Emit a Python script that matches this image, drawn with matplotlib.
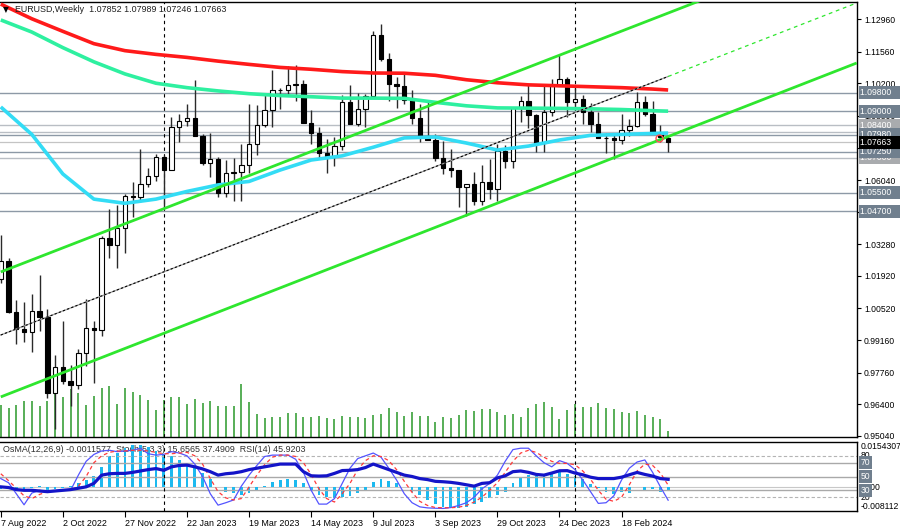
import matplotlib
matplotlib.use("Agg")
import matplotlib.pyplot as plt
import numpy as np

plt.rcParams['font.family'] = ['Liberation Sans', 'DejaVu Sans']

# ---------------- data ----------------
date_labels = ["7 Aug 2022", "2 Oct 2022", "27 Nov 2022", "22 Jan 2023", "19 Mar 2023",
               "14 May 2023", "9 Jul 2023", "3 Sep 2023", "29 Oct 2023", "24 Dec 2023",
               "18 Feb 2024"]
date_label_weeks = [0, 8, 16, 24, 32, 40, 48, 56, 64, 72, 80]
year_sep_weeks = [21, 74]

opens = [1.0180, 1.0258, 1.0038, 0.9964, 0.9953, 1.0042, 1.0015, 0.9690, 0.9801, 0.9740,
         0.9722, 0.9860, 0.9966, 0.9960, 1.0354, 1.0325, 1.0396, 1.0535, 1.0532, 1.0585,
         1.0620, 1.0705, 1.0645, 1.0832, 1.0856, 1.0870, 1.0795, 1.0679, 1.0694, 1.0547,
         1.0634, 1.0640, 1.0668, 1.0759, 1.0840, 1.0905, 1.0993, 1.0990, 1.1014, 1.1018,
         1.0850, 1.0805, 1.0722, 1.0708, 1.0750, 1.0940, 1.0845, 1.0910, 1.0967, 1.1228,
         1.1125, 1.1016, 1.1006, 1.0950, 1.0871, 1.0795, 1.0775, 1.0700, 1.0657, 1.0645,
         1.0573, 1.0588, 1.0512, 1.0594, 1.0565, 1.0728, 1.0684, 1.0914, 1.0942, 1.0883,
         1.0763, 1.0895, 1.1010, 1.1039, 1.0941, 1.0952, 1.0897, 1.0846, 1.0785, 1.0784,
         1.0777, 1.0820, 1.0838, 1.0939, 1.0889, 1.0808, 1.07852]
highs = [1.0368, 1.0270, 1.0090, 1.0079, 1.0113, 1.0198, 1.0051, 0.9853, 1.0000, 0.9809,
         0.9876, 1.0094, 1.0000, 1.0365, 1.0481, 1.0497, 1.0545, 1.0595, 1.0737, 1.0657,
         1.0714, 1.0713, 1.0875, 1.0887, 1.0929, 1.1033, 1.0800, 1.0805, 1.0704, 1.0692,
         1.0700, 1.0760, 1.0930, 1.0925, 1.0973, 1.1075, 1.1000, 1.1095, 1.1097, 1.1036,
         1.0905, 1.0830, 1.0780, 1.0787, 1.0971, 1.1012, 1.0976, 1.0975, 1.1245, 1.1276,
         1.1150, 1.1046, 1.1065, 1.0990, 1.0930, 1.0945, 1.0803, 1.0770, 1.0737, 1.0648,
         1.0575, 1.0640, 1.0668, 1.0695, 1.0757, 1.0756, 1.0914, 1.0965, 1.1017, 1.0887,
         1.1009, 1.1040, 1.1140, 1.1046, 1.0998, 1.0968, 1.0933, 1.0895, 1.0805, 1.0806,
         1.0888, 1.0866, 1.0981, 1.0963, 1.0942, 1.0842, 1.07989]
lows = [1.0160, 1.0033, 0.9900, 0.9910, 0.9864, 0.9956, 0.9669, 0.9536, 0.9728, 0.9632,
        0.9705, 0.9806, 0.9730, 0.9935, 1.0271, 1.0225, 1.0290, 1.0443, 1.0508, 1.0572,
        1.0600, 1.0483, 1.0645, 1.0766, 1.0836, 1.0796, 1.0669, 1.0615, 1.0533, 1.0533,
        1.0516, 1.0516, 1.0636, 1.0712, 1.0831, 1.0831, 1.0910, 1.0964, 1.0942, 1.0847,
        1.0760, 1.0700, 1.0635, 1.0665, 1.0732, 1.0844, 1.0835, 1.0833, 1.0956, 1.1115,
        1.0944, 1.0913, 1.0930, 1.0845, 1.0766, 1.0774, 1.0686, 1.0632, 1.0617, 1.0488,
        1.0448, 1.0495, 1.0495, 1.0522, 1.0516, 1.0655, 1.0657, 1.0853, 1.0828, 1.0723,
        1.0723, 1.0880, 1.1008, 1.0877, 1.0904, 1.0844, 1.0812, 1.0785, 1.0722, 1.0695,
        1.0761, 1.0795, 1.0833, 1.0880, 1.0802, 1.0768, 1.07246]
closes = [1.0258, 1.0038, 0.9964, 0.9953, 1.0042, 1.0015, 0.9690, 0.9801, 0.9740, 0.9722,
          0.9860, 0.9966, 0.9960, 1.0354, 1.0325, 1.0396, 1.0535, 1.0532, 1.0585, 1.0620,
          1.0705, 1.0645, 1.0832, 1.0856, 1.0870, 1.0795, 1.0679, 1.0694, 1.0547, 1.0634,
          1.0640, 1.0668, 1.0759, 1.0840, 1.0905, 1.0993, 1.0990, 1.1014, 1.1018, 1.0850,
          1.0805, 1.0722, 1.0708, 1.0750, 1.0940, 1.0845, 1.0910, 1.0967, 1.1228, 1.1125,
          1.1016, 1.1006, 1.0950, 1.0871, 1.0795, 1.0775, 1.0700, 1.0657, 1.0645, 1.0573,
          1.0588, 1.0512, 1.0594, 1.0565, 1.0728, 1.0684, 1.0914, 1.0942, 1.0883, 1.0763,
          1.0895, 1.1010, 1.1039, 1.0941, 1.0952, 1.0897, 1.0846, 1.0785, 1.0784, 1.0777,
          1.0820, 1.0838, 1.0939, 1.0889, 1.0808, 1.0790, 1.07663]
volumes_k = [32, 29, 32, 36, 36, 31, 36, 43, 40, 48, 44, 32, 41, 49, 51, 33, 49, 45, 42, 37,
             27, 37, 40, 40, 33, 38, 34, 36, 31, 31, 31, 53, 35, 23, 19, 20, 20, 24, 24, 20,
             20, 21, 19, 18, 21, 20, 20, 19, 22, 23, 29, 25, 21, 25, 21, 21, 15, 20, 19, 22,
             27, 26, 28, 28, 25, 22, 23, 20, 29, 33, 35, 30, 18, 27, 33, 30, 30, 34, 29, 28,
             25, 24, 26, 22, 20, 18, 6]

# moving averages (read every 4 weeks)
ma_weeks = [0, 4, 8, 12, 16, 20, 24, 28, 32, 36, 40, 44, 48, 52, 56, 60, 64, 68, 72, 76, 80, 84, 86]
ma_red = [1.1360, 1.1297, 1.1243, 1.1190, 1.1160, 1.1144, 1.1131, 1.1115, 1.1101, 1.1088, 1.1080,
          1.1070, 1.1064, 1.1063, 1.1054, 1.1035, 1.1022, 1.1013, 1.1009, 1.1005, 1.1001, 1.0995, 1.0991]
ma_spring = [1.1292, 1.1240, 1.1173, 1.1112, 1.1060, 1.1020, 1.1001, 1.0987, 1.0975, 1.0967, 1.0962,
             1.0956, 1.0956, 1.0955, 1.0938, 1.0923, 1.0914, 1.0913, 1.0912, 1.0910, 1.0907, 1.0902, 1.0900]
ma_aqua = [1.0918, 1.0800, 1.0630, 1.0522, 1.0504, 1.0522, 1.0555, 1.0583, 1.0598, 1.0647, 1.0690,
           1.0708, 1.0745, 1.0785, 1.0789, 1.0763, 1.0733, 1.0750, 1.0776, 1.0796, 1.0800, 1.0804, 1.0806]

# trend channel anchors (week, price)
upper_line = ([0, 110.3], [1.0209, 1.1636])
middle_line = ([0, 86], [0.9938, 1.1049])
middle_ext = ([86, 110.3], [1.1049, 1.1365])
lower_line = ([0, 110.3], [0.9672, 1.1107])

levels_dark = [1.0980, 1.0900, 1.0798, 1.0725, 1.0550, 1.0470]
levels_light = [1.0840, 1.0700]
level_plain = [1.0812]
bid_price = 1.07663
price_ticks = [1.12960, 1.11560, 1.10200, 1.08800, 1.07400, 1.06040, 1.04680, 1.03280,
               1.01920, 1.00520, 0.99160, 0.97760, 0.96400, 0.95040]

osma = [-0.0005, -0.0004, -0.0006, -0.0007, -0.0004, 0.0005, -0.0010, -0.0005, -0.0004, 0.0003,
        0.0015, 0.0025, 0.0038, 0.0070, 0.0105, 0.0118, 0.0133, 0.0144, 0.0144, 0.0138,
        0.0122, 0.0110, 0.0105, 0.0093, 0.0082, 0.0065, 0.0050, 0.0027, 0.0002, -0.0015,
        -0.0020, -0.0026, -0.0020, -0.0010, 0.0004, 0.0019, 0.0025, 0.0027, 0.0025, 0.0014,
        -0.0009, -0.0026, -0.0034, -0.0037, -0.0032, -0.0030, -0.0020, -0.0009, 0.0019, 0.0027,
        0.0022, 0.0014, 0.0002, -0.0015, -0.0026, -0.0043, -0.0058, -0.0066, -0.0066, -0.0072,
        -0.0066, -0.0058, -0.0049, -0.0037, -0.0026, -0.0015, 0.0014, 0.0034, 0.0042, 0.0039,
        0.0042, 0.0048, 0.0051, 0.0044, 0.0039, 0.0027, 0.0010, -0.0003, -0.0015, -0.0024,
        -0.0015, -0.0020, 0.0002, -0.0009, -0.0005, -0.0015, -0.0011577]
stoch_main = [47, 41, 25, 9, 26, 30, 28, 29, 30, 30,
              52, 72, 82, 87, 88, 86, 87, 88, 91, 83,
              81, 82, 86, 84, 80, 68, 50, 25, 8.5, 12,
              16, 36, 52, 66, 79, 81, 81, 81, 75, 56,
              30, 10, 10, 18, 40, 62, 76, 80, 84, 78,
              62, 45, 25, 12, 6, 4.5, 4, 3.7, 5, 8,
              12, 20, 32, 40, 52, 72, 89, 91, 91, 80,
              70, 64, 73, 69, 60, 45, 28, 11, 12, 22,
              45, 62, 71, 74, 56, 35, 15.6565]
stoch_signal = [54, 44, 33, 22, 18, 24, 28, 29, 30, 30,
                36, 50, 70, 80, 85, 87, 87, 88, 88, 87,
                85, 83, 83, 84, 85, 80, 68, 47, 28, 19,
                16, 18, 35, 52, 67, 78, 81, 81, 79, 70,
                53, 32, 18, 13, 25, 40, 60, 73, 80, 79,
                73, 60, 43, 27, 14, 8, 5, 4.7, 4.7, 5.5,
                8, 13, 20, 30, 41, 56, 72, 84, 88, 85,
                78, 72, 69, 69, 67, 58, 46, 30, 17, 14,
                20, 38, 58, 68, 66, 55, 37.4909]
rsi = [35, 34, 31, 30, 30, 29, 28, 29, 30, 31,
       33, 35, 40, 52, 54, 54.5, 54.5, 56, 58, 60,
       61.5, 59, 64, 66, 66.5, 64, 61, 57, 52, 54,
       55, 57, 60, 62, 64, 66, 68, 68, 68, 57,
       51, 50.6, 51, 54.5, 58.6, 59, 60, 63, 68, 64,
       60, 56, 52, 50, 47, 45.5, 43, 42.4, 41.5, 40,
       38, 36, 40, 41, 48, 51, 57, 58, 56, 53,
       52, 55, 58.3, 58.5, 55, 52.5, 49, 47, 47, 47,
       49, 52.5, 55.9, 53, 50.6, 47, 45.9203]

# ---------------- figure ----------------
W, H = 900, 530
fig = plt.figure(figsize=(W / 100, H / 100), dpi=100)
fig.patch.set_facecolor('white')


def rect(x0, y0, x1, y1):
    return [x0 / W, 1 - y1 / H, (x1 - x0) / W, (y1 - y0) / H]


ax_vol = fig.add_axes(rect(0, 2, 857, 437))
ax = fig.add_axes(rect(0, 2, 857, 437), sharex=ax_vol)
ax.patch.set_visible(False)
ax_os = fig.add_axes(rect(0, 442, 857, 511), sharex=ax_vol)
ax_ind = fig.add_axes(rect(0, 442, 857, 511), sharex=ax_vol)
ax_ind.patch.set_visible(False)

weeks = np.arange(len(opens))
o = np.array(opens); c = np.array(closes); hi = np.array(highs); lo = np.array(lows)

x_left = -0.1
x_right = x_left + 857 / 7.76
ax_vol.set_xlim(x_left, x_right)

FS = 6.2

# volumes
ax_vol.vlines(weeks, 0, volumes_k, color='#4aa84a', lw=1.3)
ax_vol.set_ylim(0, 435)
ax_vol.axis('off')

# main price chart
ax.set_ylim(0.94997, 1.13691)
for lv in levels_dark:
    ax.axhline(lv, color='#8d99a6', lw=1.0, zorder=1)
for lv in levels_light + level_plain:
    ax.axhline(lv, color='#b9bec4', lw=1.0, zorder=1)
ax.axhline(bid_price, color='#c4c4c4', lw=0.9, zorder=1)
for ws in year_sep_weeks:
    ax.axvline(ws, color='black', lw=0.8, ls=(0, (3, 3)), zorder=2)
    ax_ind.axvline(ws, color='black', lw=0.8, ls=(0, (3, 3)), zorder=2)

# channel
ax.plot(*upper_line, color='#2ee62e', lw=2.0, zorder=7, solid_capstyle='butt')
ax.plot(*lower_line, color='#2ee62e', lw=2.0, zorder=7, solid_capstyle='butt')
ax.plot(*middle_line, color='#9a9a9a', lw=0.9, zorder=7)
ax.plot(*middle_line, color='black', lw=0.8, ls=(0, (2, 2)), zorder=7)
ax.plot(*middle_ext, color='#2ee62e', lw=0.9, ls=(0, (3, 3)), zorder=7)

# candles
up = c >= o
ax.vlines(weeks, lo, hi, color='#2a2a2a', lw=1.0, zorder=4)
body_bottom = np.minimum(o, c)
body_h = np.maximum(np.abs(c - o), 0.00012)
ax.bar(weeks, body_h, bottom=body_bottom, width=0.56,
       color=np.where(up, 'white', 'black'), edgecolor='black', lw=0.8, zorder=5)

# moving averages
ax.plot(ma_weeks, ma_red, color='#ff1a1a', lw=2.6, zorder=6, solid_capstyle='butt')
ax.plot(ma_weeks, ma_spring, color='#2ef0a0', lw=2.6, zorder=6, solid_capstyle='butt')
ax.plot(ma_weeks, ma_aqua, color='#33dcf5', lw=2.6, zorder=6, solid_capstyle='butt')

# marker object
ax.plot([84.8], [1.0785], marker='o', ms=5, mfc='none', mec='#ff5050', mew=1.0, zorder=8)

ax.text(0.004, 0.982, "\u25bc", transform=ax.transAxes, fontsize=5.5, va='center',
        ha='left', color='black', family=['DejaVu Sans'], zorder=9)
ax.text(0.0175, 0.982, "EURUSD,Weekly  1.07852 1.07989 1.07246 1.07663",
        transform=ax.transAxes, fontsize=6.4, va='center', ha='left', color='#202020', zorder=9)

ax.yaxis.tick_right()
ax.set_yticks(price_ticks)
ax.set_yticklabels([f"{v:.5f}" for v in price_ticks])
ax.tick_params(axis='y', length=3, width=0.8, pad=2, labelsize=FS, colors='black')
ax.tick_params(axis='x', bottom=False, labelbottom=False)
ax.spines['left'].set_visible(False)
for s in ('top', 'right', 'bottom'):
    ax.spines[s].set_color('black'); ax.spines[s].set_linewidth(1.0)

tr = ax.get_yaxis_transform()


def box(axh, y, txt, fc, tc='white'):
    axh.text(1.004, y, txt + "   ", transform=axh.get_yaxis_transform(), fontsize=FS,
             color=tc, va='center', ha='left', zorder=20, clip_on=False,
             bbox=dict(boxstyle='square,pad=0.22', fc=fc, ec='none'))


for lv in levels_light:
    box(ax, lv, f"{lv:.5f}", '#a9abae')
for lv in levels_dark:
    box(ax, lv, f"{lv:.5f}", '#707f8e')
box(ax, bid_price, f"{bid_price:.5f}", 'black')

# indicator window
ax_os.bar(weeks, osma, width=0.36, color='#1cb9ef', zorder=2)
ax_os.set_ylim(-0.008112, 0.0154307)
ax_os.axhline(0, color='#c8c8c8', lw=0.8, zorder=1)
ax_os.tick_params(left=False, right=False, labelleft=False, bottom=False, labelbottom=False)
for s in ax_os.spines.values():
    s.set_visible(False)
ax_os.text(0.004, 0.895, "OsMA(12,26,9) -0.0011577  Stoch(5,3,3) 15.6565 37.4909  RSI(14) 45.9203",
           transform=ax_os.transAxes, fontsize=6.4, va='center', ha='left', color='#303030', zorder=1)
ax_os.text(1.004, 0.0154307, "0.0154307", transform=ax_os.get_yaxis_transform(), fontsize=FS,
           va='top', ha='left', clip_on=False)
ax_os.text(1.004, -0.008112, "-0.008112", transform=ax_os.get_yaxis_transform(), fontsize=FS,
           va='bottom', ha='left', clip_on=False)
ax_os.text(1.004, 0.0, "-0.00", transform=ax_os.get_yaxis_transform(), fontsize=FS,
           va='center', ha='left', clip_on=False)

ax_ind.set_ylim(0, 100)
for lv in (80, 20):
    ax_ind.axhline(lv, color='#b4b4b4', lw=0.8, ls=(0, (3, 2)), zorder=1)
for lv in (70, 50, 30):
    ax_ind.axhline(lv, color='#a9a9a9', lw=1.0, zorder=1)
ax_ind.plot(weeks, stoch_main, color='#5454ff', lw=0.9, zorder=4)
ax_ind.plot(weeks, stoch_signal, color='#ff3a3a', lw=0.9, ls=(0, (3, 2.5)), zorder=4)
ax_ind.plot(weeks, rsi, color='#1414c8', lw=2.3, zorder=5)
ax_ind.text(1.004, 80, "80", transform=ax_ind.get_yaxis_transform(), fontsize=FS,
            va='center', ha='left', clip_on=False)
ax_ind.text(1.004, 20, "20", transform=ax_ind.get_yaxis_transform(), fontsize=FS,
            va='center', ha='left', clip_on=False)
for lv in (70, 50, 30):
    ax_ind.text(1.004, lv, f"{lv}", transform=ax_ind.get_yaxis_transform(), fontsize=FS,
                color='white', va='center', ha='left', clip_on=False, zorder=20,
                bbox=dict(boxstyle='square,pad=0.22', fc='#707f8e', ec='none'))
ax_ind.tick_params(left=False, right=False, labelleft=False)
ax_ind.spines['left'].set_visible(False)
for s in ('top', 'right', 'bottom'):
    ax_ind.spines[s].set_color('black'); ax_ind.spines[s].set_linewidth(1.0)
ax_ind.set_xticks(date_label_weeks)
ax_ind.set_xticklabels(date_labels)
ax_ind.tick_params(axis='x', length=4, width=0.8, pad=2, labelsize=6.4, colors='black')
for lab in ax_ind.get_xticklabels():
    lab.set_horizontalalignment('left')

ax.tick_params(axis='x', bottom=False, labelbottom=False)
ax_os.tick_params(axis='x', bottom=False, labelbottom=False)

fig.savefig("out.png", dpi=100, facecolor='white')
